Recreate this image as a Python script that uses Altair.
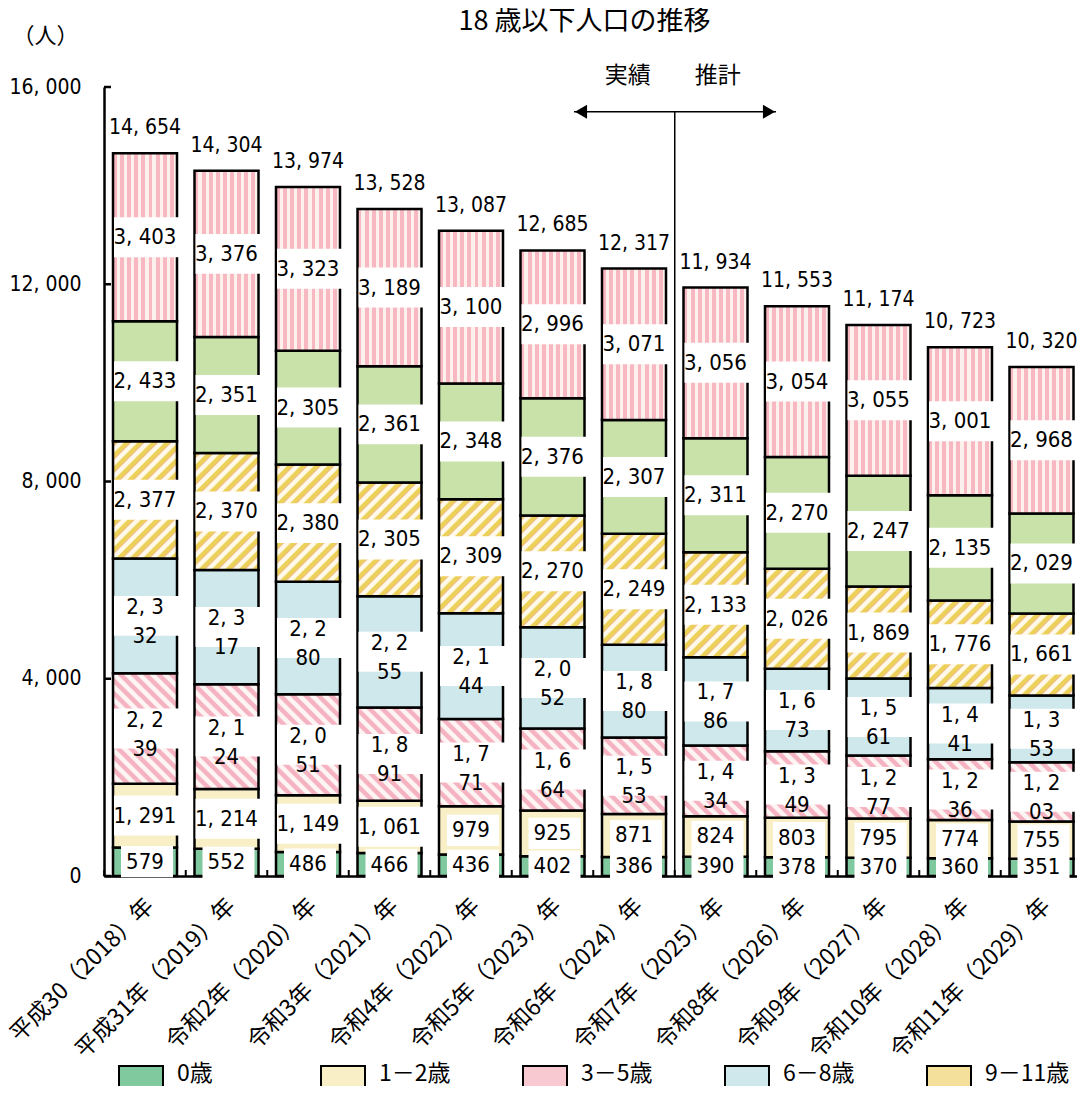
import math
import altair as alt

# ---------------- data ----------------
cats = ["平成30（2018）年", "平成31年（2019）年", "令和2年（2020）年", "令和3年（2021）年",
        "令和4年（2022）年", "令和5年（2023）年", "令和6年（2024）年", "令和7年（2025）年",
        "令和8年（2026）年", "令和9年（2027）年", "令和10年（2028）年", "令和11年（2029）年"]
series = ["0歳", "1－2歳", "3－5歳", "6－8歳", "9－11歳", "12－14歳", "15－18歳"]

age0 = [579, 552, 486, 466, 436, 402, 386, 390, 378, 370, 360, 351]
age1_2 = [1291, 1214, 1149, 1061, 979, 925, 871, 824, 803, 795, 774, 755]
age3_5 = [2239, 2124, 2051, 1891, 1771, 1664, 1553, 1434, 1349, 1277, 1236, 1203]
age6_8 = [2332, 2317, 2280, 2255, 2144, 2052, 1880, 1786, 1673, 1561, 1441, 1353]
age9_11 = [2377, 2370, 2380, 2305, 2309, 2270, 2249, 2133, 2026, 1869, 1776, 1661]
age12_14 = [2433, 2351, 2305, 2361, 2348, 2376, 2307, 2311, 2270, 2247, 2135, 2029]
age15_18 = [3403, 3376, 3323, 3189, 3100, 2996, 3071, 3056, 3054, 3055, 3001, 2968]
totals = [14654, 14304, 13974, 13528, 13087, 12685, 12317, 11934, 11553, 11174, 10723, 10320]
y_ticks = [0, 4000, 8000, 12000, 16000]

values_by_series = [age0, age1_2, age3_5, age6_8, age9_11, age12_14, age15_18]

# ---------------- layout / style ----------------
W, H, YMAX = 973, 789, 16000
P_IN, P_OUT, ALIGN = 0.2147, 0.0767, 0.72
STEP = W / (len(cats) - P_IN + 2 * P_OUT)
BW = STEP * (1 - P_IN)
PX = H / YMAX

JP = "Noto Sans CJK JP"
NUM = "DejaVu Sans Condensed, Liberation Sans, sans-serif"
NUMSIZE = 22

solid_colors = ["#80c89e", "#f9efc6", "#f8c9d1", "#cfe8ec", "#f4e09a", "#c9e2a9", "#f8c6cd"]

PINK = "#f5b2c0"
PINKW = "#fdf5f4"
YEL = "#ecd158"
ORA = "#f2bb8e"
CREAM = "#fff9e9"


def diag_grad(w, h, pitch, period, up):
    a = (w + h) / (w * w + h * h)
    if up:
        x1, y1, x2, y2 = 0, 0, a * w, a * h
    else:
        x1, y1, x2, y2 = 0, 1, a * w, 1 - a * h
    n = (w + h) / (math.sqrt(2) * pitch)
    stops = []
    k = 0
    while k < n:
        for off, col in period:
            o = (k + off) / n
            if o <= 1:
                stops.append({"offset": round(o, 5), "color": col})
        k += 1
    stops.append({"offset": 1, "color": period[-1][1]})
    return {"gradient": "linear", "x1": x1, "y1": y1, "x2": round(x2, 5),
            "y2": round(y2, 5) if y2 != 0 else 0.00001, "stops": stops}


def vert_grad(n):
    period = [(0.0, "#f7b8c2"), (0.55, "#f7b8c2"), (0.55, "#fdf1ee"), (1.0, "#fdf1ee")]
    stops = []
    for k in range(n):
        for off, col in period:
            stops.append({"offset": round((k + off) / n, 5), "color": col})
    return {"gradient": "linear", "x1": 0, "y1": 0, "x2": 1, "y2": 0.00001, "stops": stops}


pink_period = [(0.0, PINK), (0.36, PINK), (0.5, PINKW), (0.86, PINKW), (1.0, PINK)]
yel_period = [(0.0, YEL), (0.3, YEL), (0.42, ORA), (0.52, CREAM), (0.86, CREAM), (1.0, YEL)]


def fmt(v):
    return f"{v:,}".replace(",", ", ")


records = []
for i, c in enumerate(cats):
    for j, s in enumerate(series):
        v = values_by_series[j][i]
        h = v * PX
        if j == 2:
            grad = diag_grad(BW, h, 9.0, pink_period, False)
        elif j == 4:
            grad = diag_grad(BW, h, 9.5, yel_period, True)
        elif j == 6:
            grad = vert_grad(9)
        else:
            grad = solid_colors[j]
        lab = fmt(v)
        wrapped = j in (2, 3)
        if wrapped:
            lab = lab[:4] + "\n" + lab[4:]
        kind = "big" if v >= 1000 else "small"
        records.append({"cat": c, "series": s, "order": j, "value": v,
                        "label": lab, "kind": kind, "wrap": wrapped, "grad": grad})

tot_records = [{"cat": c, "total": t, "tlabel": fmt(t)} for c, t in zip(cats, totals)]
tick_records = [{"v": v} for v in y_ticks]
cat_records = [{"cat": c} for c in cats]
arrow_records = [{"cat": cats[5], "cat2": cats[8], "y": 15500}]
div_records = [{"cat": cats[7], "y": 15500, "y0": 0}]

# ---------------- encodings ----------------
xscale = alt.Scale(domain=cats, paddingInner=P_IN, paddingOuter=P_OUT, align=ALIGN, round=False)
X = alt.X("cat:N", sort=cats, scale=xscale,
          axis=alt.Axis(labelAngle=-45, labelAlign="right", labelBaseline="middle",
                        labelFont=JP, labelFontSize=23, labelPadding=26, labelOffset=5,
                        labelColor="black", ticks=False, tickSize=0, domainColor="black",
                        domainWidth=2.5, title=None, labelLimit=500))
yscale = alt.Scale(domain=[0, YMAX], nice=False, zero=True)
yaxis = alt.Axis(values=y_ticks, labelExpr="replace(format(datum.value, ','), ',', ', ')",
                 labelFont=NUM, labelFontSize=21, labelPadding=23, labelColor="black",
                 ticks=False, tickSize=0, domainColor="black", domainWidth=2.5, grid=False,
                 title="（人）", titleAngle=0, titleFont=JP, titleFontSize=22,
                 titleFontWeight="normal", titleColor="black", titleX=-59, titleY=-52,
                 titleAlign="center", titleBaseline="middle")
Y = lambda f: alt.Y(f, scale=yscale, axis=yaxis)

data = alt.Data(values=records)

stacked = alt.Chart(data).transform_stack(
    stack="value", groupby=["cat"], as_=["y0", "y1"],
    sort=[alt.SortField("order", order="ascending")]
).transform_calculate(ymid="(datum.y0 + datum.y1) / 2")

legend_shape = "M-1,-0.364H1V1.5H-1Z"
base = stacked.mark_bar().encode(
    x=X, y=Y("y0:Q"), y2="y1:Q",
    fill=alt.Fill("series:N", sort=series,
                  scale=alt.Scale(domain=series, range=solid_colors),
                  legend=alt.Legend(orient="none", legendX=14, legendY=964, direction="horizontal",
                                    columns=5, gridAlign="all", symbolType=legend_shape,
                                    symbolSize=1936, symbolStrokeColor="black",
                                    symbolStrokeWidth=2, labelFont=JP, labelFontSize=23,
                                    labelOffset=13, columnPadding=42, rowPadding=10,
                                    title=None, labelColor="black", padding=0,
                                    labelLimit=300)),
)

pattern = stacked.mark_bar(stroke="black", strokeWidth=2.5).encode(
    x=X, y=Y("y0:Q"), y2="y1:Q",
    fill=alt.Fill("grad:N", scale=None, legend=None),
)

box_big = stacked.transform_filter("datum.kind == 'big'").mark_point(
    shape="M-1,-0.588H1V0.588H-1Z", filled=True, color="white", opacity=1,
    size=4624, xOffset=3).encode(x=X, y=Y("ymid:Q"))
box_small = stacked.transform_filter("datum.kind == 'small'").mark_point(
    shape="M-1,-0.6H1V0.6H-1Z", filled=True, color="white", opacity=1,
    size=2704, xOffset=2).encode(x=X, y=Y("ymid:Q"))

seg_text = stacked.transform_filter("!datum.wrap").mark_text(
    font=NUM, fontSize=NUMSIZE, baseline="middle", align="center", color="black").encode(
    x=X, y=Y("ymid:Q"), text="label:N")
seg_text_wrap = stacked.transform_filter("datum.wrap").mark_text(
    font=NUM, fontSize=NUMSIZE, lineBreak="\n", lineHeight=29, dy=-9,
    baseline="middle", align="center", color="black").encode(
    x=X, y=Y("ymid:Q"), text="label:N")

tot_text = alt.Chart(alt.Data(values=tot_records)).mark_text(
    font=NUM, fontSize=21, baseline="middle", align="center", dy=-25, color="black").encode(
    x=X, y=Y("total:Q"), text="tlabel:N")

ytick = alt.Chart(alt.Data(values=tick_records)).mark_rule(color="black", strokeWidth=2.5).encode(
    y=Y("v:Q"), x=alt.value(0), x2=alt.value(7))

xtick = alt.Chart(alt.Data(values=cat_records)).mark_rule(
    color="black", strokeWidth=2, xOffset=-STEP / 2).encode(
    x=X, y=alt.value(H), y2=alt.value(H - 6))
xtick_last = alt.Chart(alt.Data(values=cat_records[-1:])).mark_rule(
    color="black", strokeWidth=2, xOffset=STEP / 2 - 2).encode(
    x=X, y=alt.value(H), y2=alt.value(H - 6))

arrow = alt.Chart(alt.Data(values=arrow_records)).mark_rule(
    color="black", strokeWidth=1.5, xOffset=21.5, x2Offset=-21).encode(
    x=X, x2="cat2:N", y=Y("y:Q"))
head_l = alt.Chart(alt.Data(values=arrow_records)).mark_point(
    shape="triangle-left", filled=True, color="black", opacity=1, size=196, xOffset=28.5).encode(
    x=X, y=Y("y:Q"))
head_r = alt.Chart(alt.Data(values=arrow_records)).mark_point(
    shape="triangle-right", filled=True, color="black", opacity=1, size=196, xOffset=-28).encode(
    x=alt.X("cat2:N", sort=cats, scale=xscale), y=Y("y:Q"))
divider = alt.Chart(alt.Data(values=div_records)).mark_rule(
    color="black", strokeWidth=1.5, xOffset=-STEP / 2).encode(
    x=X, y=Y("y:Q"), y2="y0:Q")
txt_a = alt.Chart(alt.Data(values=div_records)).mark_text(
    text="実績", font=JP, fontSize=23, baseline="middle", align="center", dx=-STEP / 2 - 47,
    dy=-36, color="black").encode(x=X, y=Y("y:Q"))
txt_b = alt.Chart(alt.Data(values=div_records)).mark_text(
    text="推計", font=JP, fontSize=23, baseline="middle", align="center", dx=-STEP / 2 + 43,
    dy=-36, color="black").encode(x=X, y=Y("y:Q"))

chart = alt.layer(
    base, pattern, divider, box_big, box_small, seg_text, seg_text_wrap, tot_text,
    ytick, xtick, xtick_last, arrow, head_l, head_r, txt_a, txt_b
).properties(
    width=W, height=H,
    title=alt.TitleParams("18 歳以下人口の推移", font=JP, fontSize=27, fontWeight="normal",
                          anchor="middle", color="black", dx=-6, dy=16),
    autosize=alt.AutoSizeParams(type="none"),
    padding={"left": 96, "top": 79, "right": 0, "bottom": 210},
    background="white",
).configure_view(stroke=None)

chart.save("out.html", embed_options={"renderer": "svg", "actions": False})
